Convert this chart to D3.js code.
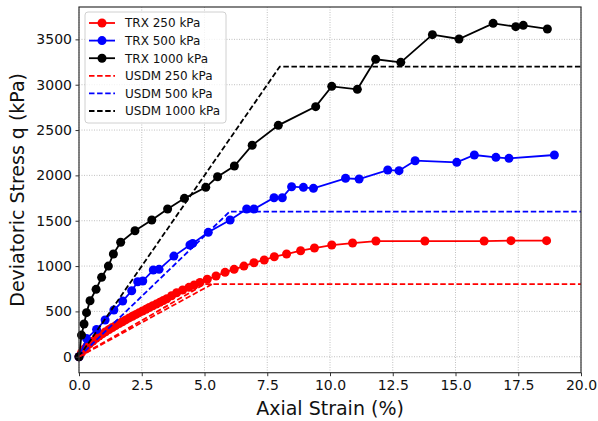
<!DOCTYPE html>
<html>
<head>
<meta charset="utf-8">
<script src="https://cdn.jsdelivr.net/npm/d3@7"></script>
<style>
  body { margin: 0; background: #fff; }
  text { font-family: 'DejaVu Sans', sans-serif; }
</style>
</head>
<body>
<div id="chart"></div>
<script>
// [axial strain %, deviatoric stress kPa]
const trx250 = [
  [0, 0], [0.1, 45], [0.2, 82], [0.3, 112], [0.42, 142], [0.55, 172], [0.68, 203],
  [0.8, 228], [0.93, 252], [1.06, 275], [1.2, 300], [1.33, 322], [1.46, 343],
  [1.6, 366], [1.73, 386], [1.86, 406], [2.0, 428], [2.13, 447], [2.27, 467],
  [2.4, 486], [2.53, 505], [2.67, 524], [2.8, 543], [2.94, 562], [3.08, 581],
  [3.22, 600], [3.36, 620], [3.5, 640], [3.69, 673], [3.89, 706], [4.13, 736],
  [4.38, 765], [4.59, 791], [4.82, 820], [5.11, 854], [5.46, 890], [5.82, 931],
  [6.18, 964], [6.57, 1000], [6.97, 1037], [7.38, 1067], [7.78, 1103], [8.27, 1133],
  [8.83, 1169], [9.38, 1199], [10.07, 1232], [10.9, 1254], [11.83, 1276],
  [13.78, 1276], [16.14, 1276], [17.21, 1280], [18.63, 1280],
];
const trx500 = [
  [0, 0], [0.3, 200], [0.7, 300], [1.04, 405], [1.39, 515], [1.74, 614], [2.1, 728],
  [2.34, 827], [2.54, 835], [2.96, 956], [3.19, 964], [3.78, 1110], [4.42, 1232],
  [4.53, 1250], [5.15, 1372], [6.02, 1508], [6.68, 1629], [6.97, 1629], [7.77, 1754],
  [8.1, 1754], [8.47, 1875], [8.94, 1868], [9.34, 1857], [10.62, 1968], [11.16, 1960],
  [12.3, 2059], [12.75, 2052], [13.39, 2162], [15.05, 2144], [15.75, 2225],
  [16.61, 2199], [17.13, 2188], [18.94, 2225],
];
const trx1000 = [
  [0, 0], [0.1, 239], [0.2, 361], [0.3, 486], [0.44, 618], [0.68, 743], [0.9, 876],
  [1.17, 1000], [1.37, 1133], [1.66, 1262], [2.23, 1390], [2.9, 1508], [3.53, 1629],
  [4.2, 1747], [5.05, 1868], [5.52, 1985], [6.19, 2103], [6.9, 2332], [7.94, 2552],
  [9.43, 2758], [10.07, 2982], [11.09, 2949], [11.82, 3280], [12.82, 3247],
  [14.08, 3552], [15.14, 3504], [16.5, 3677], [17.4, 3640], [17.7, 3655], [18.66, 3615],
];
const usdm250 = [[0, 0], [5.0, 800], [20, 800]];
const usdm250b = [[0, 0], [5.3, 800]];
const usdm500 = [[0, 0], [6.0, 1600], [20, 1600]];
const usdm1000 = [[0, 0], [8.0, 3200], [20, 3200]];

const xTicks = [0, 2.5, 5, 7.5, 10, 12.5, 15, 17.5, 20];
const yTicks = [0, 500, 1000, 1500, 2000, 2500, 3000, 3500];

const series = [
  { name: 'TRX 250 kPa', data: trx250, color: '#ff0000', dashed: false },
  { name: 'TRX 500 kPa', data: trx500, color: '#0000ff', dashed: false },
  { name: 'TRX 1000 kPa', data: trx1000, color: '#000000', dashed: false },
  { name: 'USDM 250 kPa', data: usdm250, color: '#ff0000', dashed: true },
  { name: 'USDM 500 kPa', data: usdm500, color: '#0000ff', dashed: true },
  { name: 'USDM 1000 kPa', data: usdm1000, color: '#000000', dashed: true },
];

const width = 598;
const height = 421;
const margin = { top: 7, right: 17, bottom: 48.3, left: 79 };
const dash = '5.5,2.6';

const x = d3.scaleLinear()
  .domain([0, 20])
  .range([margin.left, width - margin.right]);

const y = d3.scaleLinear()
  .domain([-176, 3857])
  .range([height - margin.bottom, margin.top]);

const svg = d3.select('#chart')
  .append('svg')
  .attr('width', width)
  .attr('height', height);

// grid
svg.append('g')
  .selectAll('line')
  .data(xTicks)
  .enter()
  .append('line')
  .attr('x1', d => x(d))
  .attr('x2', d => x(d))
  .attr('y1', margin.top)
  .attr('y2', height - margin.bottom)
  .attr('stroke', '#b0b0b0')
  .attr('stroke-width', 0.8)
  .attr('stroke-dasharray', '1,1.5');

svg.append('g')
  .selectAll('line')
  .data(yTicks)
  .enter()
  .append('line')
  .attr('x1', margin.left)
  .attr('x2', width - margin.right)
  .attr('y1', d => y(d))
  .attr('y2', d => y(d))
  .attr('stroke', '#b0b0b0')
  .attr('stroke-width', 0.8)
  .attr('stroke-dasharray', '1,1.5');

const line = d3.line()
  .x(d => x(d[0]))
  .y(d => y(d[1]));

const plot = svg.append('g');

series.filter(s => !s.dashed).forEach((s) => {
  plot.append('path')
    .datum(s.data)
    .attr('fill', 'none')
    .attr('stroke', s.color)
    .attr('stroke-width', 1.8)
    .attr('d', line);

  plot.append('g')
    .selectAll('circle')
    .data(s.data)
    .enter()
    .append('circle')
    .attr('r', 4.5)
    .attr('fill', s.color)
    .attr('cx', d => x(d[0]))
    .attr('cy', d => y(d[1]));
});

series.filter(s => s.dashed).forEach((s) => {
  plot.append('path')
    .datum(s.data)
    .attr('fill', 'none')
    .attr('stroke', s.color)
    .attr('stroke-width', 1.8)
    .attr('stroke-dasharray', dash)
    .attr('d', line);
});

// second USDM 250 branch seen below the markers
plot.append('path')
  .datum(usdm250b)
  .attr('fill', 'none')
  .attr('stroke', '#ff0000')
  .attr('stroke-width', 1.8)
  .attr('stroke-dasharray', dash)
  .attr('d', line);

// frame
svg.append('rect')
  .attr('x', margin.left)
  .attr('y', margin.top)
  .attr('width', width - margin.left - margin.right)
  .attr('height', height - margin.top - margin.bottom)
  .attr('fill', 'none')
  .attr('stroke', '#333')
  .attr('stroke-width', 1.2);

// axes
const xAxis = svg.append('g')
  .attr('transform', `translate(0, ${height - margin.bottom})`)
  .call(d3.axisBottom(x)
    .tickValues(xTicks)
    .tickFormat(d3.format('.1f'))
    .tickSize(3.5)
    .tickPadding(3.5));

const yAxis = svg.append('g')
  .attr('transform', `translate(${margin.left}, 0)`)
  .call(d3.axisLeft(y)
    .tickValues(yTicks)
    .tickFormat(d3.format('d'))
    .tickSize(3.5)
    .tickPadding(3.5));

[xAxis, yAxis].forEach((a) => {
  a.select('.domain').remove();
  a.selectAll('text')
    .attr('font-family', 'DejaVu Sans')
    .style('font-size', '14px')
    .attr('fill', '#111');
  a.selectAll('line').attr('stroke', '#333');
});

svg.append('text')
  .attr('x', (margin.left + width - margin.right) / 2)
  .attr('y', 415)
  .attr('text-anchor', 'middle')
  .style('font-size', '19px')
  .attr('fill', '#111')
  .text('Axial Strain (%)');

svg.append('text')
  .attr('transform', `translate(24, ${(margin.top + height - margin.bottom) / 2}) rotate(-90)`)
  .attr('text-anchor', 'middle')
  .style('font-size', '19px')
  .attr('fill', '#111')
  .text('Deviatoric Stress q (kPa)');

// legend
const legend = svg.append('g')
  .attr('transform', 'translate(85, 12)');

legend.append('rect')
  .attr('width', 141)
  .attr('height', 111)
  .attr('rx', 3)
  .attr('fill', 'rgba(255,255,255,0.8)')
  .attr('stroke', '#d0d0d0')
  .attr('stroke-width', 1);

const items = legend.selectAll('.item')
  .data(series)
  .enter()
  .append('g')
  .attr('class', 'item')
  .attr('transform', (d, i) => `translate(0, ${11 + i * 17.6})`);

items.append('line')
  .attr('x1', 4)
  .attr('x2', 30)
  .attr('stroke', d => d.color)
  .attr('stroke-width', 1.8)
  .attr('stroke-dasharray', d => (d.dashed ? dash : null));

items.filter(d => !d.dashed)
  .append('circle')
  .attr('cx', 17)
  .attr('r', 4.5)
  .attr('fill', d => d.color);

items.append('text')
  .attr('x', 40)
  .attr('dy', '0.36em')
  .style('font-size', '12px')
  .attr('fill', '#111')
  .text(d => d.name);
</script>
</body>
</html>
